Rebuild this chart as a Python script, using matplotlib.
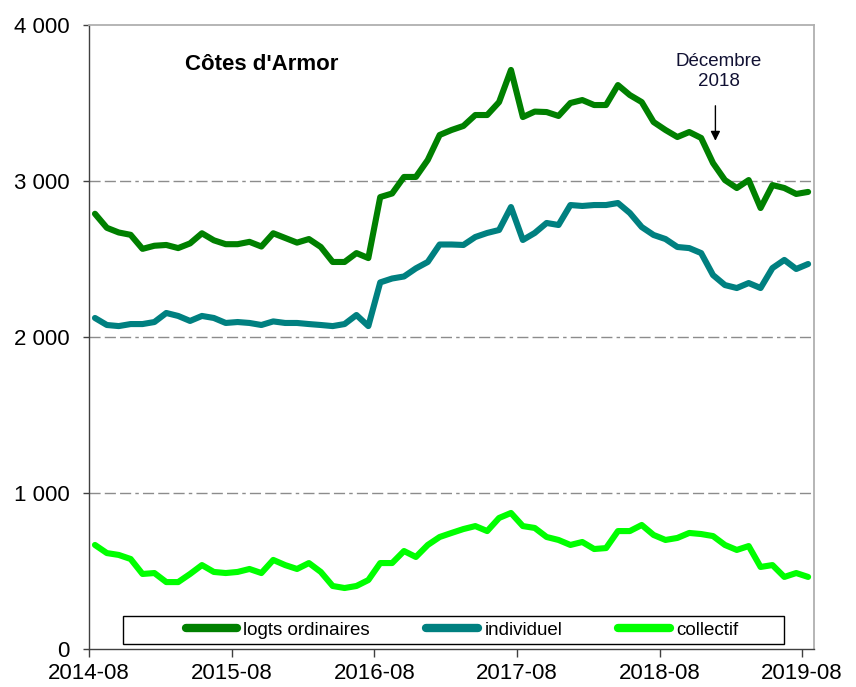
import matplotlib
matplotlib.use("Agg")
import matplotlib.pyplot as plt
from matplotlib.patches import Rectangle

months = ["2014-08", "2015-08", "2016-08", "2017-08", "2018-08", "2019-08"]

logts = [2790, 2700, 2670, 2655, 2565, 2585, 2590, 2570, 2600, 2665,
         2620, 2595, 2595, 2610, 2580, 2665, 2635, 2605, 2628, 2577,
         2481, 2481, 2538, 2506, 2897, 2920, 3026, 3026, 3135, 3295,
         3327, 3353, 3423, 3423, 3506, 3712, 3410, 3445, 3442, 3417,
         3500, 3519, 3487, 3487, 3615, 3551, 3506, 3378, 3327, 3282,
         3314, 3276, 3115, 3006, 2955, 3006, 2827, 2974, 2955, 2917, 2930]

individuel = [2122, 2077, 2070, 2083, 2083, 2096, 2154, 2135, 2103, 2135,
              2122, 2090, 2096, 2090, 2077, 2100, 2090, 2090, 2083, 2077,
              2070, 2083, 2141, 2070, 2350, 2375, 2388, 2440, 2481, 2593,
              2593, 2590, 2641, 2667, 2686, 2833, 2622, 2667, 2731, 2718,
              2846, 2840, 2846, 2846, 2859, 2795, 2705, 2654, 2628, 2577,
              2570, 2538, 2397, 2333, 2314, 2346, 2314, 2442, 2494, 2436, 2468]

collectif = [667, 615, 603, 577, 481, 487, 429, 429, 481, 538,
             494, 487, 494, 513, 487, 571, 538, 513, 551, 494,
             404, 391, 404, 442, 551, 551, 628, 590, 667, 718,
             744, 769, 788, 756, 840, 872, 788, 776, 718, 699,
             667, 686, 641, 647, 756, 756, 795, 731, 699, 712,
             744, 737, 724, 667, 635, 660, 526, 538, 462, 487, 462]

plt.rcParams['font.family'] = ['Liberation Sans', 'DejaVu Sans']

fig = plt.figure(figsize=(8.56, 6.87), dpi=100)
ax = fig.add_axes([0.104, 0.0553, 0.847, 0.9083])

x = list(range(len(logts)))
kw = dict(lw=4.4, solid_capstyle="round", solid_joinstyle="round", zorder=3)
ax.plot(x, logts, color="#008000", label="logts ordinaires", **kw)
ax.plot(x, individuel, color="#008080", label="individuel", **kw)
ax.plot(x, collectif, color="#00FF00", label="collectif", **kw)

ax.set_xlim(-0.5, len(logts) - 0.5)
ax.set_ylim(0, 4000)

ax.set_yticks([0, 1000, 2000, 3000, 4000])
ax.set_yticklabels(["0", "1 000", "2 000", "3 000", "4 000"], fontsize=16)
ax.set_xticks([-0.5 + 12 * k for k in range(len(months))])
ax.set_xticklabels(months, fontsize=16)

for yv in [1000, 2000, 3000]:
    ax.axhline(yv, color="#8c8c8c", lw=1.0, dashes=(8, 3, 8, 3, 8, 3, 2.5, 3), zorder=1)

for s in ["top", "right"]:
    ax.spines[s].set_color("#b0b0b0")
    ax.spines[s].set_linewidth(1.3)
for s in ["left", "bottom"]:
    ax.spines[s].set_color("#404040")
    ax.spines[s].set_linewidth(1.0)

ax.tick_params(axis="y", direction="out", length=4.5, width=1, color="#404040", pad=9.5)
ax.tick_params(axis="x", direction="out", length=5.8, width=1, color="#404040", pad=4)

ax.text(0.132, 0.936, "Côtes d'Armor", transform=ax.transAxes, fontsize=16,
        fontweight="bold", ha="left", va="center")

ax.annotate("", xy=(52.2, 3240), xytext=(52.2, 3500),
            arrowprops=dict(arrowstyle="-|>", color="black", lw=1.0, mutation_scale=14))
ax.text(52.5, 3702, "Décembre\n2018", fontsize=13.5, ha="center", va="center",
        color="#111133", linespacing=1.25)

ax.add_patch(Rectangle((0.047, 0.008), 0.912, 0.045, transform=ax.transAxes,
                       fill=False, edgecolor="black", lw=1.0, zorder=4))
leg = ax.legend(loc="center", bbox_to_anchor=(0.5145, 0.0305),
                ncol=3, frameon=False, fontsize=13.5, handlelength=2.77, handletextpad=0.32,
                borderaxespad=0, borderpad=0, columnspacing=3.0)
for h in leg.get_lines():
    h.set_linewidth(6.0)
    h.set_solid_capstyle("round")

fig.savefig("out.png", dpi=100)
